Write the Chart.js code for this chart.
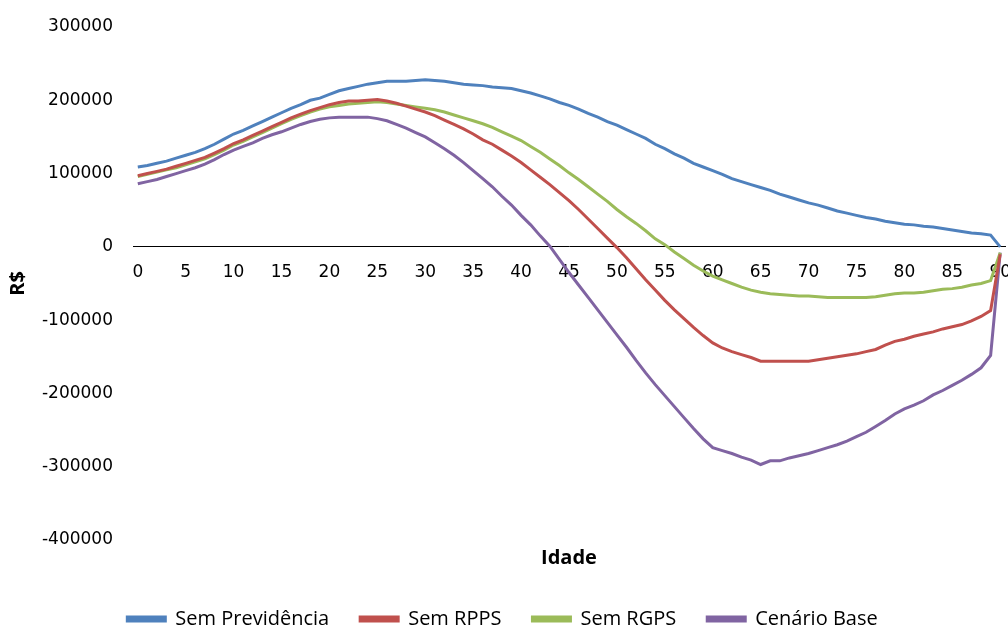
<!DOCTYPE html>
<html>
<head>
<meta charset="utf-8">
<script src="https://cdn.jsdelivr.net/npm/chart.js@4.4.1/dist/chart.umd.min.js"></script>
<style>
  html, body { margin: 0; padding: 0; background: #ffffff; }
  #wrap { width: 1008px; height: 627px; }
</style>
</head>
<body>
<div id="wrap"><canvas id="idadeChart" width="1008" height="627"></canvas></div>
<script>

// idade 0..90
const idades = [];
for (let i = 0; i <= 90; i++) idades.push(i);

const xTicks = [0, 5, 10, 15, 20, 25, 30, 35, 40, 45, 50, 55, 60, 65, 70, 75, 80, 85, 90];
const yTicks = [300000, 200000, 100000, 0, -100000, -200000, -300000, -400000];

const semPrevidencia = [
    109000, 111000, 114000, 117000, 121000, 125000, 129000, 134000, 140000, 147000,
    154000, 159000, 165000, 171000, 177000, 183000, 189000, 194000, 200000, 203000,
    208000, 213000, 216000, 219000, 222000, 224000, 226000, 226000, 226000, 227000,
    228000, 227000, 226000, 224000, 222000, 221000, 220000, 218000, 217000, 216000,
    213000, 210000, 206000, 202000, 197000, 193000, 188000, 182000, 177000, 171000,
    166000, 160000, 154000, 148000, 140000, 134000, 127000, 121000, 114000, 109000,
    104000, 99000, 93000, 89000, 85000, 81000, 77000, 72000, 68000, 64000,
    60000, 57000, 53000, 49000, 46000, 43000, 40000, 38000, 35000, 33000,
    31000, 30000, 28000, 27000, 25000, 23000, 21000, 19000, 18000, 16000,
    0
];

const semRPPS = [
    97000, 100000, 103000, 106000, 110000, 114000, 118000, 122000, 128000, 134000,
    141000, 146000, 152000, 158000, 164000, 170000, 176000, 181000, 186000, 190000,
    194000, 197000, 199000, 199000, 200000, 201000, 199000, 196000, 192000, 188000,
    184000, 179000, 173000, 167000, 161000, 154000, 146000, 140000, 132000, 124000,
    115000, 105000, 95000, 85000, 74000, 63000, 51000, 38000, 25000, 12000,
    -1000, -15000, -30000, -45000, -59000, -73000, -86000, -98000, -110000, -121000,
    -131000, -138000, -143000, -147000, -151000, -156000, -156000, -156000, -156000, -156000,
    -156000, -154000, -152000, -150000, -148000, -146000, -143000, -140000, -134000, -129000,
    -126000, -122000, -119000, -116000, -112000, -109000, -106000, -101000, -95000, -87000,
    -10000
];

const semRGPS = [
    96000, 99000, 102000, 105000, 108000, 112000, 116000, 120000, 126000, 132000,
    139000, 144000, 150000, 156000, 162000, 168000, 174000, 179000, 184000, 188000,
    191000, 193000, 195000, 196000, 197000, 198000, 197000, 195000, 193000, 191000,
    189000, 187000, 184000, 180000, 176000, 172000, 168000, 163000, 157000, 151000,
    145000, 137000, 129000, 120000, 111000, 101000, 92000, 82000, 72000, 62000,
    51000, 41000, 32000, 22000, 11000, 3000, -7000, -16000, -25000, -33000,
    -40000, -45000, -50000, -55000, -59000, -62000, -64000, -65000, -66000, -67000,
    -67000, -68000, -69000, -69000, -69000, -69000, -69000, -68000, -66000, -64000,
    -63000, -63000, -62000, -60000, -58000, -57000, -55000, -52000, -50000, -46000,
    -8000
];

const cenarioBase = [
    86000, 89000, 92000, 96000, 100000, 104000, 108000, 113000, 119000, 126000,
    132000, 137000, 142000, 148000, 153000, 157000, 162000, 167000, 171000, 174000,
    176000, 177000, 177000, 177000, 177000, 175000, 172000, 167000, 162000, 156000,
    150000, 142000, 134000, 125000, 115000, 104000, 93000, 82000, 69000, 57000,
    43000, 30000, 15000, 1000, -17000, -35000, -52000, -69000, -86000, -103000,
    -120000, -137000, -155000, -172000, -188000, -203000, -218000, -233000, -248000, -262000,
    -274000, -278000, -282000, -287000, -291000, -297000, -292000, -292000, -288000, -285000,
    -282000, -278000, -274000, -270000, -265000, -259000, -253000, -245000, -237000, -228000,
    -221000, -216000, -210000, -202000, -196000, -189000, -182000, -174000, -165000, -148000,
    -8000
];

const nomes = ["Sem Previdência", "Sem RPPS", "Sem RGPS", "Cenário Base"];
const cores = ["#4F81BD", "#C0504D", "#9BBB59", "#8064A2"];
const series = [semPrevidencia, semRPPS, semRGPS, cenarioBase];

const datasets = series.map((valores, i) => ({
    label: nomes[i],
    data: valores.map((v, j) => ({ x: idades[j], y: v })),
    borderColor: cores[i],
    backgroundColor: cores[i],
    borderWidth: 3,
    pointRadius: 0,
    tension: 0
}));

const tickFont = { family: "DejaVu Sans", size: 17 };

new Chart(document.getElementById("idadeChart"), {

    type: "line",

    data: { datasets: datasets },

    options: {
        responsive: false,
        animation: false,
        layout: {
            padding: { top: 27, right: 3, bottom: -12, left: 0 }
        },
        plugins: {
            tooltip: { enabled: false },
            legend: {
                position: "bottom",
                labels: {
                    boxWidth: 38,
                    boxHeight: 4,
                    padding: 31,
                    color: "#000000",
                    font: { family: "Open Sans", size: 20 }
                }
            }
        },
        scales: {
            x: {
                type: "linear",
                position: { y: 0 },
                min: -0.5,
                max: 90.5,
                afterBuildTicks: (axis) => {
                    axis.ticks = xTicks.map(v => ({ value: v }));
                },
                afterFit: (axis) => {
                    axis.paddingLeft = 0;
                    axis.paddingRight = 0;
                },
                grid: { display: false, drawTicks: false },
                border: { display: true, color: "#000000", width: 1 },
                ticks: {
                    color: "#000000",
                    font: tickFont,
                    padding: 16,
                    maxRotation: 0,
                    autoSkip: false
                }
            },
            x2: {
                type: "linear",
                position: "bottom",
                min: -0.5,
                max: 90.5,
                grid: { display: false, drawTicks: false },
                border: { display: false },
                ticks: { display: false },
                title: {
                    display: true,
                    text: "Idade",
                    color: "#000000",
                    font: { family: "Open Sans", size: 20, weight: "bold" },
                    padding: { top: 6, bottom: 8 }
                }
            },
            y: {
                min: -400000,
                max: 300000,
                afterBuildTicks: (axis) => {
                    axis.ticks = yTicks.map(v => ({ value: v }));
                },
                afterFit: (axis) => {
                    axis.width = 133;
                    axis.paddingTop = 0;
                    axis.paddingBottom = 0;
                },
                grid: { display: false, drawTicks: false },
                border: { display: false },
                ticks: {
                    color: "#000000",
                    font: tickFont,
                    padding: 20,
                    callback: (v) => String(v)
                },
                title: {
                    display: true,
                    text: "R$",
                    color: "#000000",
                    font: { family: "Open Sans", size: 20, weight: "bold" },
                    padding: { top: 6, bottom: 8 }
                }
            }
        }
    }
});

</script>
</body>
</html>
